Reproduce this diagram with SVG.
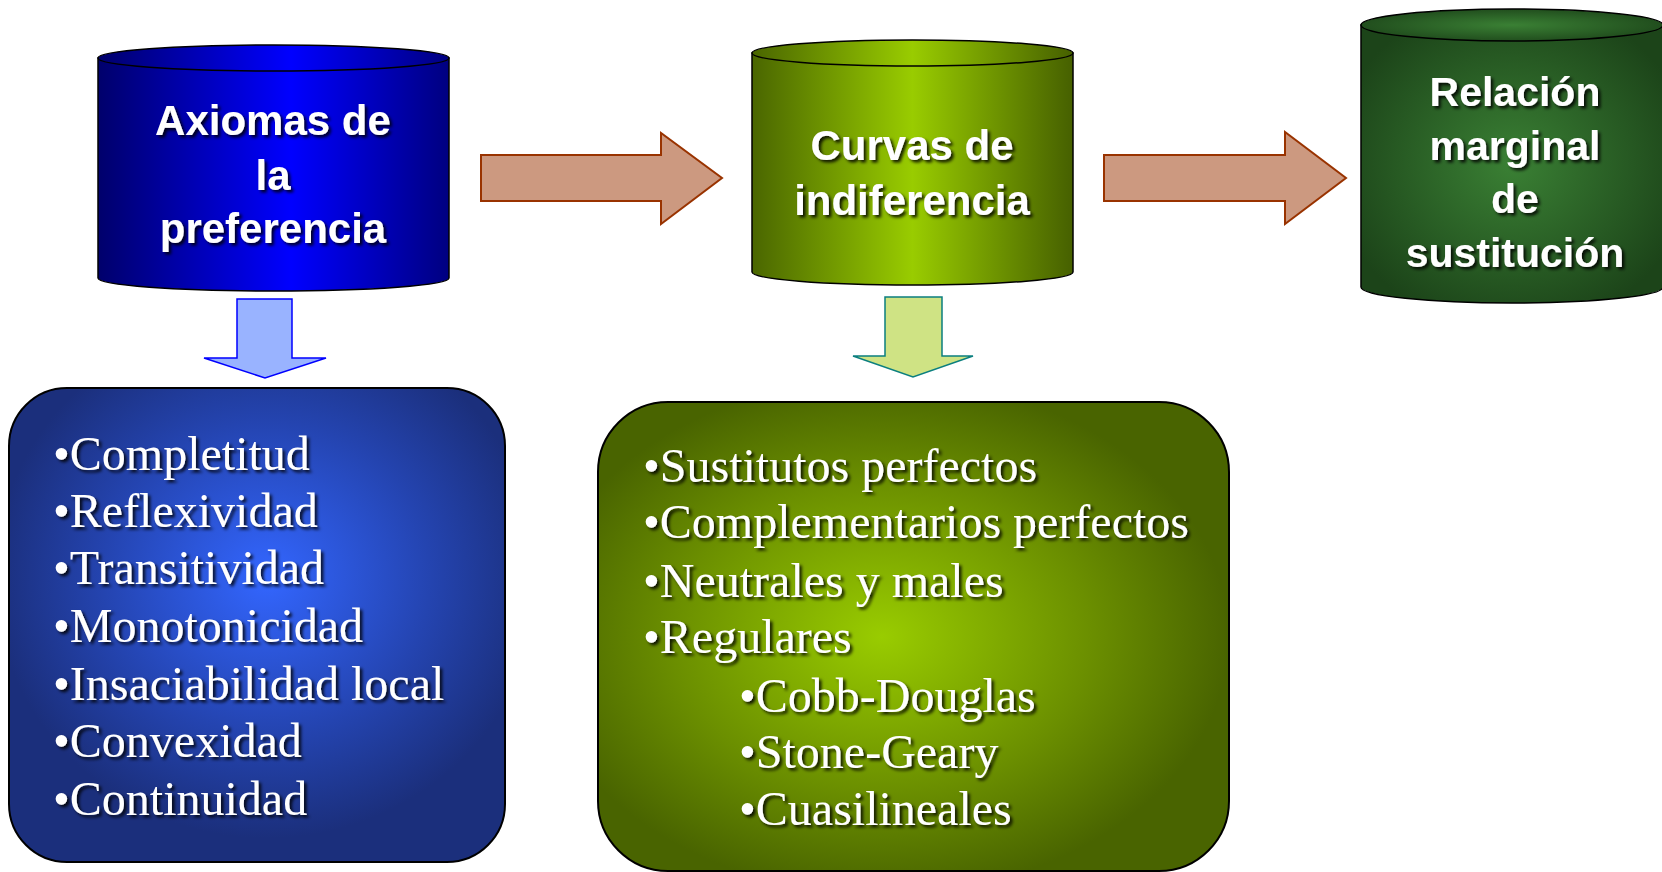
<svg xmlns="http://www.w3.org/2000/svg" width="1662" height="872" viewBox="0 0 1662 872">
<defs>
<linearGradient id="gBlue" x1="0" y1="0" x2="1" y2="0">
<stop offset="0" stop-color="#00006b"/>
<stop offset="0.55" stop-color="#0000ff"/>
<stop offset="1" stop-color="#000080"/>
</linearGradient>
<linearGradient id="gOlive" x1="0" y1="0" x2="1" y2="0">
<stop offset="0" stop-color="#4a6600"/>
<stop offset="0.5" stop-color="#99cc00"/>
<stop offset="1" stop-color="#466000"/>
</linearGradient>
<radialGradient id="gDark" cx="0.5" cy="0.5" r="0.6">
<stop offset="0" stop-color="#3a8034"/>
<stop offset="1" stop-color="#1c4419"/>
</radialGradient>
<radialGradient id="gBoxBlue" cx="0.52" cy="0.4" r="0.55">
<stop offset="0" stop-color="#3366ff"/>
<stop offset="0.6" stop-color="#2444b0"/>
<stop offset="1" stop-color="#1b2f7c"/>
</radialGradient>
<radialGradient id="gBoxGreen" cx="0.45" cy="0.5" r="0.55">
<stop offset="0" stop-color="#99cc00"/>
<stop offset="0.6" stop-color="#6b8f00"/>
<stop offset="1" stop-color="#496400"/>
</radialGradient>
<filter id="sh" x="-10%" y="-20%" width="130%" height="150%">
<feDropShadow dx="2.5" dy="2.5" stdDeviation="1.5" flood-color="#000" flood-opacity="0.85"/>
</filter>
</defs>
<style>
.cyl{stroke:#000;stroke-width:1.5}
.ct{font-family:"Liberation Sans",Arial,sans-serif;font-weight:bold;fill:#fff;text-anchor:middle;filter:url(#sh)}
.lt{font-family:"Liberation Serif","Times New Roman",serif;font-size:48px;fill:#fff;filter:url(#sh)}
.box{stroke:#000;stroke-width:2}
.harr{fill:#cc9980;stroke:#993300;stroke-width:2}
</style>

<g id="connectors">
<polygon class="harr" points="481,155 661,155 661,133 722,178 661,224 661,201 481,201"/>
<polygon class="harr" points="1104,155 1285,155 1285,132 1346,178 1285,224 1285,201 1104,201"/>
<polygon points="237,299 292,299 292,358 326,358 265,378 204,358 237,358" fill="#99b3ff" stroke="#0000ff" stroke-width="1.5"/>
<polygon points="885,297 942,297 942,356 973,356 913,377 853,356 885,356" fill="#cfe384" stroke="#0b7f7f" stroke-width="1.5"/>
</g>

<g id="axiomas">
<path class="cyl" fill="url(#gBlue)" d="M98,58 L98,278 A175.5,13 0 0 0 449,278 L449,58 Z"/>
<ellipse class="cyl" fill="url(#gBlue)" cx="273.5" cy="58" rx="175.5" ry="13"/>
<text class="ct" font-size="42" x="273" y="135">Axiomas de</text>
<text class="ct" font-size="42" x="273" y="190">la</text>
<text class="ct" font-size="42" x="273" y="243">preferencia</text>
</g>

<g id="curvas">
<path class="cyl" fill="url(#gOlive)" d="M752,53 L752,272 A160.5,13 0 0 0 1073,272 L1073,53 Z"/>
<ellipse class="cyl" fill="url(#gOlive)" cx="912.5" cy="53" rx="160.5" ry="13"/>
<text class="ct" font-size="42" x="912" y="160">Curvas de</text>
<text class="ct" font-size="42" x="912" y="215">indiferencia</text>
</g>

<g id="relacion">
<path class="cyl" fill="url(#gDark)" d="M1361,25 L1361,287 A151,16 0 0 0 1663,287 L1663,25 Z"/>
<ellipse class="cyl" fill="url(#gDark)" cx="1512" cy="25" rx="151" ry="16"/>
<text class="ct" font-size="41" x="1515" y="106">Relación</text>
<text class="ct" font-size="41" x="1515" y="160">marginal</text>
<text class="ct" font-size="41" x="1515" y="213">de</text>
<text class="ct" font-size="41" x="1515" y="267">sustitución</text>
</g>

<g id="lista-axiomas">
<rect class="box" x="9" y="388" width="496" height="474" rx="58" ry="58" fill="url(#gBoxBlue)"/>
<text class="lt" x="53" y="470">•Completitud</text>
<text class="lt" x="53" y="527">•Reflexividad</text>
<text class="lt" x="53" y="584">•Transitividad</text>
<text class="lt" x="53" y="642">•Monotonicidad</text>
<text class="lt" x="53" y="700">•Insaciabilidad local</text>
<text class="lt" x="53" y="757">•Convexidad</text>
<text class="lt" x="53" y="815">•Continuidad</text>
</g>

<g id="lista-curvas">
<rect class="box" x="598" y="402" width="631" height="469" rx="70" ry="70" fill="url(#gBoxGreen)"/>
<text class="lt" x="643" y="482">•Sustitutos perfectos</text>
<text class="lt" x="643" y="538">•Complementarios perfectos</text>
<text class="lt" x="643" y="597">•Neutrales y males</text>
<text class="lt" x="643" y="653">•Regulares</text>
<text class="lt" x="739" y="712">•Cobb-Douglas</text>
<text class="lt" x="739" y="768">•Stone-Geary</text>
<text class="lt" x="739" y="825">•Cuasilineales</text>
</g>
</svg>
